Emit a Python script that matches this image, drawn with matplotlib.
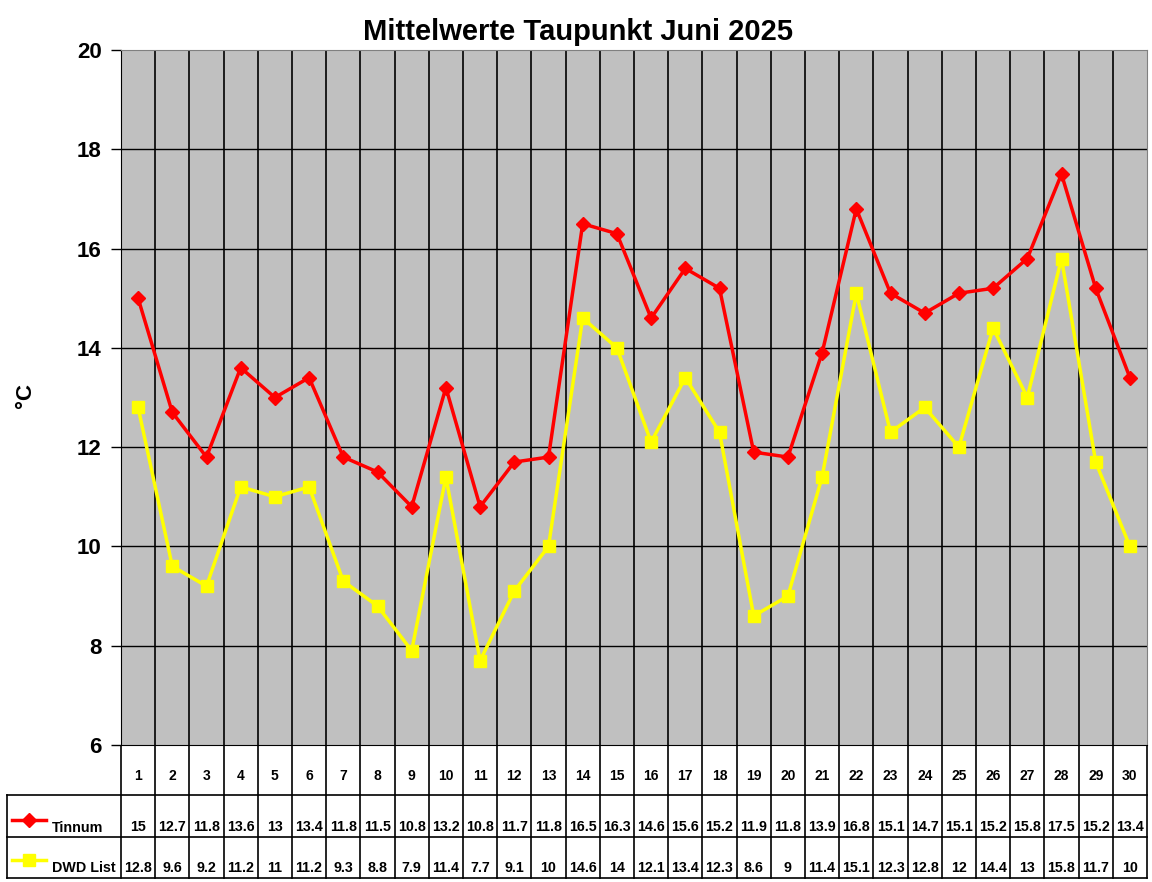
import matplotlib.pyplot as plt
from matplotlib.lines import Line2D

plt.rcParams['font.family'] = ['Liberation Sans', 'DejaVu Sans']
plt.rcParams['font.weight'] = 'bold'

# Daten Juni 2025
tage = list(range(1, 31))
tinnum = [15, 12.7, 11.8, 13.6, 13, 13.4, 11.8, 11.5, 10.8, 13.2, 10.8, 11.7, 11.8, 16.5, 16.3,
          14.6, 15.6, 15.2, 11.9, 11.8, 13.9, 16.8, 15.1, 14.7, 15.1, 15.2, 15.8, 17.5, 15.2, 13.4]
dwd_list = [12.8, 9.6, 9.2, 11.2, 11, 11.2, 9.3, 8.8, 7.9, 11.4, 7.7, 9.1, 10, 14.6, 14,
            12.1, 13.4, 12.3, 8.6, 9, 11.4, 15.1, 12.3, 12.8, 12, 14.4, 13, 15.8, 11.7, 10]
y_ticks = [6, 8, 10, 12, 14, 16, 18, 20]

W, H = 1152, 882
fig = plt.figure(figsize=(W / 100, H / 100), dpi=100)

# Plotbereich in Pixeln
px_l, px_r, px_t, px_b = 121, 1147, 50, 745
ax = fig.add_axes([px_l / W, 1 - px_b / H, (px_r - px_l) / W, (px_b - px_t) / H])
ax.set_facecolor('#C0C0C0')
ax.set_xlim(0.5, len(tage) + 0.5)
ax.set_ylim(6, 20)
ax.set_yticks(y_ticks)
ax.set_yticklabels([str(t) for t in y_ticks], fontsize=16, fontweight='bold')
ax.tick_params(axis='y', length=7, width=1, color='black', pad=7)
ax.set_xticks([])
for y in y_ticks[1:-1]:
    ax.axhline(y, color='black', lw=1, zorder=1)
for i in range(1, len(tage)):
    ax.axvline(i + 0.5, color='black', lw=1.2, zorder=1)
ax.spines['left'].set_color('black')
ax.spines['bottom'].set_color('black')
ax.spines['top'].set_color('#808080')
ax.spines['right'].set_color('#808080')

ax.plot(tage, tinnum, color='#FF0000', lw=2.5, marker='D', ms=7, mfc='#FF0000', mec='#FF0000', zorder=3)
ax.plot(tage, dwd_list, color='#FFFF00', lw=2.5, marker='s', ms=9, mfc='#FFFF00', mec='#FFFF00', zorder=3)

fig.text(578 / W, 1 - 32 / H, 'Mittelwerte Taupunkt Juni 2025', fontsize=21, fontweight='bold',
         ha='center', va='center')
fig.text(25 / W, 1 - 395 / H, '°C', rotation=90, fontsize=16, fontweight='bold', ha='center', va='center')

# Datentabelle unter dem Diagramm (Pixelkoordinaten)
tab = fig.add_axes([0, 0, 1, 1 - px_b / H], facecolor='none')
tab.set_xlim(0, W)
tab.set_ylim(H, px_b)
tab.axis('off')
y_head, y_r1, y_r2, y_end = 745, 795, 837, 878
left = 7
cw = (px_r - px_l) / len(tage)
lk = dict(color='black', lw=1.2)
tab.plot([left, px_r], [y_r1, y_r1], **lk)
tab.plot([left, px_r], [y_r2, y_r2], **lk)
tab.plot([left, px_r], [y_end, y_end], **lk)
tab.plot([left, left], [y_r1, y_end], **lk)
for i in range(len(tage) + 1):
    tab.plot([px_l + i * cw] * 2, [y_head, y_end], **lk)

for i, t in enumerate(tage):
    xc = px_l + (i + 0.5) * cw
    tab.text(xc, 776, str(t), ha='center', va='center', fontsize=10, fontweight='bold')
    tab.text(xc, 827, f'{tinnum[i]:g}', ha='center', va='center', fontsize=10.3, fontweight='bold')
    tab.text(xc, 868, f'{dwd_list[i]:g}', ha='center', va='center', fontsize=10.3, fontweight='bold')

# Legendenschlüssel
tab.add_line(Line2D([12, 46], [820, 820], color='#FF0000', lw=2.5))
tab.plot([29], [820], marker='D', ms=7, color='#FF0000')
tab.add_line(Line2D([12, 46], [860, 860], color='#FFFF00', lw=2.5))
tab.plot([29], [860], marker='s', ms=9, color='#FFFF00')
tab.text(52, 828, 'Tinnum', ha='left', va='center', fontsize=10.3, fontweight='bold')
tab.text(52, 868, 'DWD List', ha='left', va='center', fontsize=10.3, fontweight='bold')

fig.savefig('out.png', dpi=100)
